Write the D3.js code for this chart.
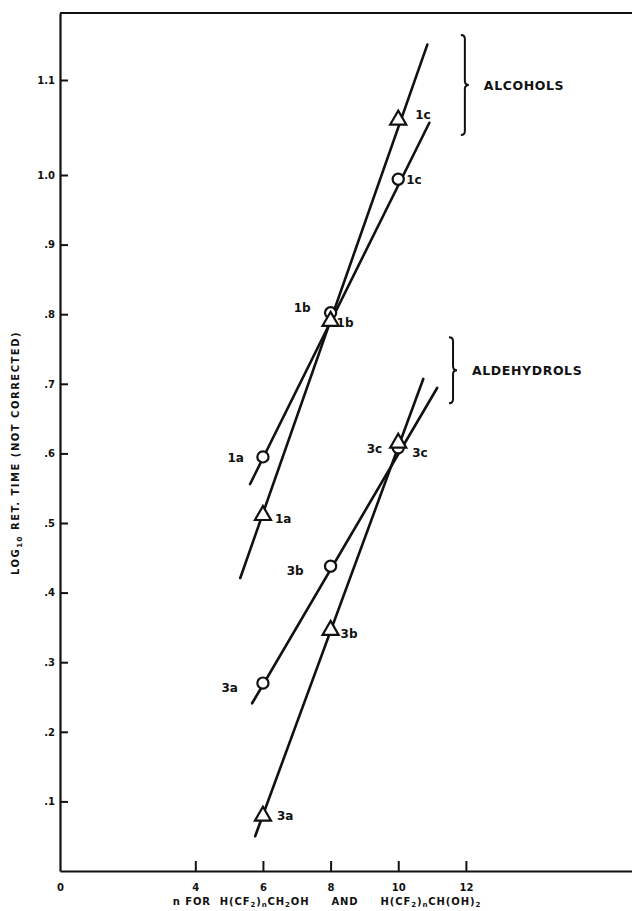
<!DOCTYPE html>
<html>
<head>
<meta charset="utf-8">
<script src="https://cdn.jsdelivr.net/npm/d3@7"></script>
<style>
  html, body { margin: 0; padding: 0; background: #fff; }
  svg { display: block; }
  text { font-family: "DejaVu Sans", "Liberation Sans", sans-serif; font-weight: bold; fill: #111; }
</style>
</head>
<body>
<svg id="chart" width="632" height="911"></svg>
<script>
// ---------------- data ----------------
const nValues = [6, 8, 10];
const alcoholLabels = ["1a", "1b", "1c"];
const aldehydrolLabels = ["3a", "3b", "3c"];
const alcoholCircle = [0.595, 0.802, 0.994];
const alcoholTriangle = [0.511, 0.790, 1.058];
const aldehydrolCircle = [0.270, 0.438, 0.608];
const aldehydrolTriangle = [0.079, 0.346, 0.615];

// fitted straight lines (n, log10 ret. time) at their drawn ends
const alcoholCircleFit = [[5.62, 0.556], [10.92, 1.055]];
const alcoholTriangleFit = [[5.33, 0.421], [10.86, 1.137]];
const aldehydrolCircleFit = [[5.68, 0.241], [11.15, 0.694]];
const aldehydrolTriangleFit = [[5.77, 0.050], [10.74, 0.707]];

const yTickValues = [0.1, 0.2, 0.3, 0.4, 0.5, 0.6, 0.7, 0.8, 0.9, 1.0, 1.1];
const yTickLabels = [".1", ".2", ".3", ".4", ".5", ".6", ".7", ".8", ".9", "1.0", "1.1"];
const xTickValues = [0, 4, 6, 8, 10, 12];
const xTickLabels = ["0", "4", "6", "8", "10", "12"];

const groupNames = ["ALCOHOLS", "ALDEHYDROLS"];
// brace spans in data units: [n, yTop, yBottom]
const groupBraces = [[11.97, 1.147, 1.042], [11.62, 0.767, 0.672]];

// ---------------- layout ----------------
const svg = d3.select("#chart");
const x = d3.scaleLinear().domain([0, 17]).range([60, 635]);
const y = d3.scaleLinear().domain([0, 1.0, 1.1, 1.17]).range([871, 175, 80, 13]);

const ink = "#111";

// top frame line
svg.append("line")
  .attr("x1", x(0)).attr("x2", 632)
  .attr("y1", y(1.17)).attr("y2", y(1.17))
  .attr("stroke", ink).attr("stroke-width", 2);

// y axis
const yAxis = d3.axisLeft(y)
  .tickValues(yTickValues)
  .tickFormat((d, i) => yTickLabels[i])
  .tickSizeInner(-8).tickSizeOuter(0).tickPadding(5);
const gy = svg.append("g").attr("transform", `translate(${x(0)},0)`).call(yAxis);
gy.select(".domain").attr("stroke", ink).attr("stroke-width", 2.2);
gy.selectAll(".tick line").attr("stroke", ink).attr("stroke-width", 2);
gy.selectAll(".tick text").style("font-size", "10px").style("font-family", "DejaVu Sans").style("font-weight", "bold").attr("fill", ink);

// x axis
const xAxis = d3.axisBottom(x)
  .tickValues(xTickValues)
  .tickFormat((d, i) => xTickLabels[i])
  .tickSizeInner(-10).tickSizeOuter(0).tickPadding(13);
const gx = svg.append("g").attr("transform", `translate(0,${y(0)})`).call(xAxis);
gx.select(".domain").attr("stroke", ink).attr("stroke-width", 2.2);
gx.selectAll(".tick line").attr("stroke", ink).attr("stroke-width", 2)
  .attr("opacity", d => d === 0 ? 0 : 1);
gx.selectAll(".tick text").style("font-size", "10px").style("font-family", "DejaVu Sans").style("font-weight", "bold").attr("fill", ink);

// y title
const yt = svg.append("text")
  .attr("transform", `translate(19,453) rotate(-90)`)
  .attr("text-anchor", "middle")
  .style("font-size", "10px").style("letter-spacing", "1.5px");
yt.append("tspan").text("LOG");
yt.append("tspan").attr("dy", 3).style("font-size", "7px").text("10");
yt.append("tspan").attr("dy", -3).text(" RET. TIME (NOT CORRECTED)");

// x title
const xtSegments = [
  ["n FOR  H(CF", 0], ["2", 1], [")", 0], ["n", 1], ["CH", 0], ["2", 1],
  ["OH     AND     H(CF", 0], ["2", 1], [")", 0], ["n", 1], ["CH(OH)", 0], ["2", 1]
];
const xt = svg.append("text")
  .attr("x", 327).attr("y", 905)
  .attr("text-anchor", "middle")
  .style("font-size", "10px").style("white-space", "pre").style("letter-spacing", "0.9px");
let prevSub = 0;
xtSegments.forEach(([t, sub]) => {
  const ts = xt.append("tspan").text(t);
  const dy = (sub - prevSub) * 2;
  if (dy) ts.attr("dy", dy);
  if (sub) ts.style("font-size", "7px");
  prevSub = sub;
});

// fit lines
const lineGen = d3.line().x(d => x(d[0])).y(d => y(d[1]));
[alcoholCircleFit, alcoholTriangleFit, aldehydrolCircleFit, aldehydrolTriangleFit].forEach(f => {
  svg.append("path").attr("d", lineGen(f))
    .attr("fill", "none").attr("stroke", ink).attr("stroke-width", 2.6)
    .attr("stroke-linecap", "round");
});

// point label offsets (px) relative to the mark: [dx, dy, anchor]
const labelOffsets = {
  alcoholCircle: [[-19, 1, "end"], [-20, -5, "end"], [8, 1, "start"]],
  alcoholTriangle: [[12, 3, "start"], [6, 2, "start"], [17, -5, "start"]],
  aldehydrolCircle: [[-25, 5, "end"], [-27, 5, "end"], [14, 5, "start"]],
  aldehydrolTriangle: [[14, 0, "start"], [10, 4, "start"], [-16, 6, "end"]]
};

function drawSeries(values, labels, shape, key) {
  const pts = nValues.map((n, i) => ({ n, v: values[i], label: labels[i], off: labelOffsets[key][i] }));
  const g = svg.append("g");
  if (shape === "circle") {
    g.selectAll("circle").data(pts).join("circle")
      .attr("cx", d => x(d.n)).attr("cy", d => y(d.v)).attr("r", 5.6)
      .attr("fill", "#fff").attr("stroke", ink).attr("stroke-width", 2.2);
  } else {
    const sym = d3.symbol().type(d3.symbolTriangle).size(112);
    g.selectAll("path").data(pts).join("path")
      .attr("d", sym)
      .attr("transform", d => `translate(${x(d.n)},${y(d.v)})`)
      .attr("fill", "#fff").attr("stroke", ink).attr("stroke-width", 2.2)
      .attr("stroke-linejoin", "miter");
  }
  g.selectAll("text").data(pts).join("text")
    .attr("x", d => x(d.n) + d.off[0])
    .attr("y", d => y(d.v) + d.off[1])
    .attr("dy", "0.35em")
    .attr("text-anchor", d => d.off[2])
    .style("font-size", "12px")
    .text(d => d.label);
}
drawSeries(alcoholCircle, alcoholLabels, "circle", "alcoholCircle");
drawSeries(alcoholTriangle, alcoholLabels, "triangle", "alcoholTriangle");
drawSeries(aldehydrolCircle, aldehydrolLabels, "circle", "aldehydrolCircle");
drawSeries(aldehydrolTriangle, aldehydrolLabels, "triangle", "aldehydrolTriangle");

// group braces and names
groupBraces.forEach(([n, top, bot], i) => {
  const bx = x(n), y0 = y(top), y1 = y(bot), ym = (y0 + y1) / 2;
  const p = d3.path();
  p.moveTo(bx - 4, y0);
  p.quadraticCurveTo(bx, y0, bx, y0 + 4);
  p.lineTo(bx, ym - 4);
  p.quadraticCurveTo(bx, ym, bx + 4, ym);
  p.quadraticCurveTo(bx, ym, bx, ym + 4);
  p.lineTo(bx, y1 - 4);
  p.quadraticCurveTo(bx, y1, bx - 4, y1);
  svg.append("path").attr("d", p.toString())
    .attr("fill", "none").attr("stroke", ink).attr("stroke-width", 2);
  svg.append("text")
    .attr("x", bx + 19)
    .attr("y", ym)
    .attr("dy", "0.36em")
    .style("font-size", "12.5px").style("letter-spacing", "0.6px")
    .text(groupNames[i]);
});
</script>
</body>
</html>
